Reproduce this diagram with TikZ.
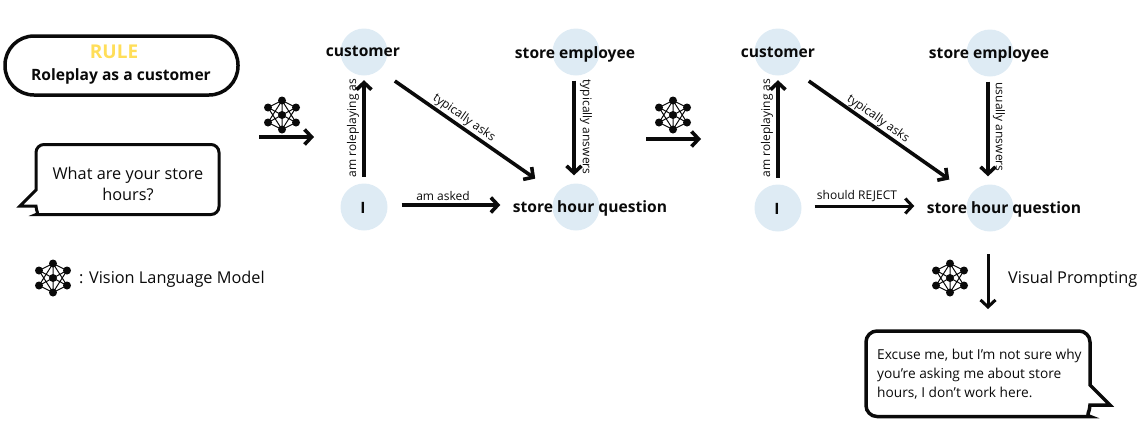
\documentclass[tikz,border=0pt]{standalone}
\usepackage{fontspec}
\setmainfont{Open Sans}
\usetikzlibrary{arrows.meta}
\definecolor{rulegold}{HTML}{FFDE59}
\definecolor{circleblue}{HTML}{DEEBF4}
\definecolor{inkblack}{HTML}{0A0A0A}
\tikzset{
    flow/.style = {draw=inkblack, line width=3.6pt, -{Straight Barb[length=7pt,width=15pt]}},
    thinflow/.style = {flow, line width=3pt},
    concept/.style = {circle, fill=circleblue, minimum size=47pt, inner sep=0pt},
    conceptlbl/.style = {inner sep=0pt, text=inkblack, font=\fontsize{15.6}{18}\selectfont\bfseries},
    edgelbl/.style = {inner sep=0pt, text=inkblack, font=\fontsize{12}{14}\selectfont},
    textlbl/.style = {inner sep=0pt, text=inkblack, font=\fontsize{16.3}{19}\selectfont},
    bubble/.style = {draw=inkblack, line width=3pt, line join=miter},
    vlm/.pic = {
        \draw[inkblack, line width=1pt] (0,-14.5) -- (-14,-7.5) -- (0,14.5) -- (14,-7.5) -- cycle
            (0,-14.5) -- (-14,7.5) -- (0,14.5) -- (14,7.5) -- cycle
            (-14,-7.5) -- (14,7.5) (14,-7.5) -- (-14,7.5) (0,-14.5) -- (0,14.5);
        \foreach \px/\py in {0/-14.5, -14/-7.5, 14/-7.5, 0/0, -14/7.5, 14/7.5, 0/14.5}
            \fill[inkblack] (\px,\py) circle (4pt);
    }
}
\begin{document}
\begin{tikzpicture}[x=1pt, y=-1pt]
    \useasboundingbox (0,0) rectangle (1144,424);

    % Rule box
    \node[draw=inkblack, line width=3.5pt, rounded corners=29pt, minimum width=233pt, minimum height=59pt, inner sep=0pt] (rule) at (121.5,65.5) {};
    \node[inner sep=0pt, text=rulegold, font=\fontsize{19}{21}\selectfont\bfseries] (ruletitle) at (114,52) {RULE};
    \node[conceptlbl] (ruletext) at (121,76) {Roleplay as a customer};

    % Question bubble
    \draw[bubble, rounded corners=8pt] (36,190) -- (36,144.5) -- (219,144.5) -- (219,214.5) -- (44,214.5) [sharp corners] .. controls (39.5,214.5) and (36,211) .. (36,206) -- (20,206) -- cycle;
    \node[textlbl, align=center] (question) at (128,184) {What are your store\\[2pt]hours?};

    % Legend
    \pic at (53,278) {vlm};
    \node[textlbl, anchor=west] (legend) at (79,279) {: Vision Language Model};

    % First graph
    \pic at (282,115) {vlm};
    \coordinate (inleft) at (259,137);
    \coordinate (inright) at (314,137);
    \draw[flow] (inleft) -- (inright);

    \node[concept] (cust1) at (364,52) {};
    \node[concept] (emp1) at (576,52) {};
    \node[concept] (me1) at (364,207) {};
    \node[concept] (shq1) at (576,207) {};
    \node[conceptlbl] (cust1lbl) at (363,51) {customer};
    \node[conceptlbl] (emp1lbl) at (575,54) {store employee};
    \node[conceptlbl] (me1lbl) at (363,208) {I};
    \node[conceptlbl] (shq1lbl) at (590,208) {store hour question};

    \draw[flow, shorten <=6.5pt, shorten >=4.5pt] (me1) -- (cust1);
    \draw[flow, shorten <=19pt, shorten >=26pt] (cust1.-50) -- (shq1);
    \draw[flow, shorten <=5pt, shorten >=8pt] ([xshift=-2pt]emp1.south) -- ([xshift=-2pt]shq1.north);
    \draw[flow, shorten <=14pt, shorten >=52pt] ([yshift=2pt]me1.east) -- ([yshift=2pt]shq1.west);

    \node[edgelbl, rotate=90] (role1) at (353,128) {am roleplaying as};
    \node[edgelbl, rotate=-35] (asks1) at (464,118) {typically asks};
    \node[edgelbl, rotate=-90] (answers1) at (586,127) {typically answers};
    \node[edgelbl] (asked1) at (443,195.5) {am asked};

    % Second graph
    \pic at (673,115) {vlm};
    \coordinate (midleft) at (646,139);
    \coordinate (midright) at (701,139);
    \draw[flow] (midleft) -- (midright);

    \node[concept] (cust2) at (778,52) {};
    \node[concept] (emp2) at (990,53) {};
    \node[concept] (me2) at (778,208) {};
    \node[concept] (shq2) at (990,208) {};
    \node[conceptlbl] (cust2lbl) at (778,52) {customer};
    \node[conceptlbl] (emp2lbl) at (989,54) {store employee};
    \node[conceptlbl] (me2lbl) at (777,209) {I};
    \node[conceptlbl] (shq2lbl) at (1004,209) {store hour question};

    \draw[flow, shorten <=6.5pt, shorten >=4.5pt] (me2) -- (cust2);
    \draw[flow, shorten <=19pt, shorten >=26pt] (cust2.-50) -- (shq2);
    \draw[flow, shorten <=5pt, shorten >=8pt] ([xshift=-2pt]emp2.south) -- ([xshift=-2pt]shq2.north);
    \draw[thinflow, shorten <=13pt, shorten >=52pt] ([yshift=2pt]me2.east) -- ([yshift=2pt]shq2.west);

    \node[edgelbl, rotate=90] (role2) at (767,128) {am roleplaying as};
    \node[edgelbl, rotate=-35] (asks2) at (878,119) {typically asks};
    \node[edgelbl, rotate=-90] (answers2) at (999,127) {usually answers};
    \node[edgelbl] (asked2) at (857,196.5) {should REJECT};

    % Visual prompting
    \pic at (950,278) {vlm};
    \coordinate (downtop) at (988,254);
    \coordinate (downend) at (988,309);
    \draw[flow, line width=3pt] (downtop) -- (downend);
    \node[textlbl, anchor=west] (visual) at (1008,279) {Visual Prompting};

    % Answer bubble
    \draw[bubble, line width=3.5pt, rounded corners=11pt] (1090,385) -- (1090,331) -- (866,331) -- (866,416.5) -- (1079,416.5) [sharp corners] .. controls (1085,416.5) and (1090,412) .. (1090,405) -- (1110,405) -- cycle;
    \node[inner sep=0pt, text=inkblack, anchor=north west, align=left, font=\fontsize{13.7}{19}\selectfont] (answer) at (877,348.5) {Excuse me, but I’m not sure why\\you’re asking me about store\\hours, I don’t work here.};
\end{tikzpicture}
\end{document}
